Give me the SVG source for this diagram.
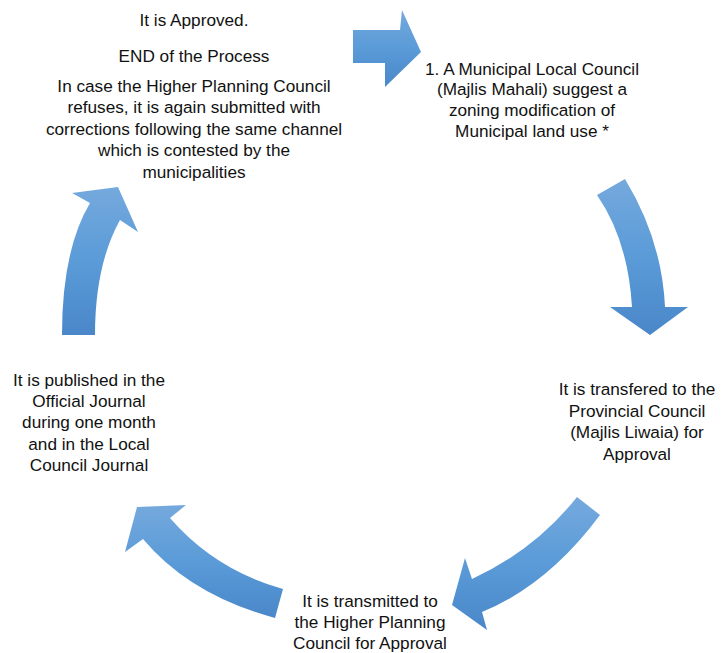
<svg xmlns="http://www.w3.org/2000/svg" width="724" height="653" viewBox="0 0 724 653">
<defs>
<linearGradient id="g" x1="0" y1="0" x2="0" y2="1">
<stop offset="0" stop-color="#75a9dd"/>
<stop offset="0.5" stop-color="#5a9bd8"/>
<stop offset="1" stop-color="#4a87c9"/>
</linearGradient>
<style>
.t{font-family:"Liberation Sans",Arial,sans-serif;font-size:17.2px;fill:#111;text-anchor:middle}
.a{fill:url(#g)}
</style>
</defs>
<rect width="724" height="653" fill="#fff"/>
<g id="connectors">
<path class="a" d="M353,30 L400,30 L402,10 L421,52 L385,87 L385,63 L353,63 Z"/>
<path class="a" d="M597,195 L625,179 Q662,240 665,307 L688,307 L650,335 L610,307 L632,307 Q628,240 597,195 Z"/>
<path class="a" d="M577,497 L600,515 Q548,585 482,612 L487,630 L452,605 L465,558 L472,579 Q535,550 577,497 Z"/>
<path class="a" d="M283,589 L275,618 Q190,595 143,539 L125,552 L137,507 L186,505 L170,518 Q215,570 283,589 Z"/>
<path class="a" d="M62,335 L95,335 Q95,265 120,220 L138,232 L118,187 L72,193 L90,203 Q62,250 62,335 Z"/>
</g>
<g id="node-end">
<text class="t" x="194" y="26">It is Approved.</text>
<text class="t" x="194" y="62">END of the Process</text>
<text class="t" x="194" y="92">In case the Higher Planning Council</text>
<text class="t" x="194" y="113">refuses, it is again submitted with</text>
<text class="t" x="194" y="135">corrections following the same channel</text>
<text class="t" x="194" y="156">which is contested by the</text>
<text class="t" x="194" y="178">municipalities</text>
</g>
<g id="node-1">
<text class="t" x="532" y="75">1. A Municipal Local Council</text>
<text class="t" x="532" y="95">(Majlis Mahali) suggest a</text>
<text class="t" x="532" y="116">zoning modification of</text>
<text class="t" x="532" y="137">Municipal land use *</text>
</g>
<g id="node-2">
<text class="t" x="637" y="395">It is transfered to the</text>
<text class="t" x="637" y="417">Provincial Council</text>
<text class="t" x="637" y="438">(Majlis Liwaia) for</text>
<text class="t" x="637" y="460">Approval</text>
</g>
<g id="node-3">
<text class="t" x="370" y="607">It is transmitted to</text>
<text class="t" x="370" y="628">the Higher Planning</text>
<text class="t" x="370" y="649">Council for Approval</text>
</g>
<g id="node-4">
<text class="t" x="89" y="386">It is published in the</text>
<text class="t" x="89" y="407">Official Journal</text>
<text class="t" x="89" y="428">during one month</text>
<text class="t" x="89" y="450">and in the Local</text>
<text class="t" x="89" y="471">Council Journal</text>
</g>
</svg>
